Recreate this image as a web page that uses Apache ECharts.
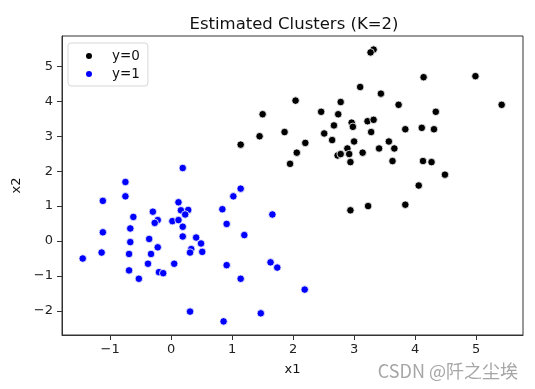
<!DOCTYPE html>
<html>
<head>
<meta charset="utf-8">
<script src="https://cdn.jsdelivr.net/npm/echarts@6/dist/echarts.min.js"></script>
<style>html,body{margin:0;padding:0;background:#fff;}#c{width:535px;height:389px;}</style>
</head>
<body>
<div id="c"></div>
<script>
const title = 'Estimated Clusters (K=2)';
const seriesNames = ['y=0', 'y=1'];
const xTicks = [-1, 0, 1, 2, 3, 4, 5];
const yTicks = [-2, -1, 0, 1, 2, 3, 4, 5];

const cluster0X = [3.32, 3.27, 4.14, 4.99, 5.42, 3.10, 3.44, 2.04, 2.78, 3.73, 1.50, 2.46, 2.74, 4.34,
  2.67, 2.96, 2.98, 3.22, 3.32, 3.84, 4.11, 4.31, 1.86, 1.45, 2.51, 3.28, 1.14, 2.20, 2.64, 3.00,
  3.57, 2.06, 2.89, 2.73, 2.78, 2.92, 3.14, 3.41, 3.66, 1.95, 2.94, 3.63, 4.13, 4.27, 4.49, 4.06,
  2.94, 3.23, 3.84];
const cluster0Y = [5.48, 5.40, 4.69, 4.72, 3.90, 4.41, 4.22, 4.02, 3.98, 3.90, 3.63, 3.70, 3.63, 3.70,
  3.31, 3.39, 3.27, 3.43, 3.47, 3.20, 3.24, 3.20, 3.12, 3.00, 3.08, 3.12, 2.76, 2.81, 2.89, 2.85,
  2.85, 2.53, 2.65, 2.45, 2.49, 2.49, 2.53, 2.65, 2.65, 2.21, 2.26, 2.29, 2.29, 2.26, 1.90, 1.59,
  0.88, 1.00, 1.04];

const cluster1X = [0.19, -0.75, -0.75, -1.12, 1.14, 1.02, 0.12, 0.16, 0.28, 0.23, 0.84, -0.30, -0.62,
  1.66, -0.22, -0.27, 0.02, 0.12, 0.91, -0.67, 0.19, -1.12, 1.20, 0.19, -0.36, 0.41, -0.67, 0.49,
  -0.22, 0.33, 0.31, 0.51, -1.14, -0.69, -0.33, -1.45, 1.63, 1.74, 0.91, 0.05, -0.38, -0.69, -0.20,
  -0.13, -0.53, 1.14, 2.19, 0.31, 1.47, 0.86];
const cluster1Y = [2.09, 1.69, 1.28, 1.15, 1.50, 1.28, 1.11, 0.88, 0.89, 0.76, 0.91, 0.84, 0.69,
  0.76, 0.60, 0.52, 0.57, 0.60, 0.49, 0.36, 0.41, 0.25, 0.17, 0.13, 0.06, 0.10, -0.03, -0.07,
  -0.18, -0.23, -0.33, -0.31, -0.33, -0.37, -0.37, -0.50, -0.61, -0.76, -0.69, -0.65, -0.65, -0.84, -0.89,
  -0.92, -1.08, -1.08, -1.39, -2.02, -2.07, -2.30];

const pairs = (xs, ys) => xs.map((x, i) => [x, ys[i]]);
const fmt = v => String(v).replace('-', '\u2212');
const font = 'DejaVu Sans';

const chart = echarts.init(document.getElementById('c'), null, {renderer: 'canvas'});
chart.setOption({
  animation: false,
  backgroundColor: '#fff',
  title: {
    text: title, left: 289, top: 11, textAlign: 'center',
    textStyle: {fontFamily: font, fontSize: 16.5, fontWeight: 'normal', color: '#111'}
  },
  grid: {left: 62, right: 12, top: 36, bottom: 54, show: true, borderColor: '#333', borderWidth: 1, backgroundColor: '#fff'},
  legend: {
    left: 68, top: 43, orient: 'vertical',
    data: seriesNames.map(n => ({name: n, icon: 'circle'})),
    itemWidth: 8, itemHeight: 8, itemGap: 4,
    padding: [6, 8, 5, 16],
    borderColor: '#d8d8d8', borderWidth: 1, borderRadius: 3, backgroundColor: '#fff',
    textStyle: {fontFamily: font, fontSize: 13.5, color: '#111', padding: [0, 0, 0, 14]}
  },
  xAxis: {
    type: 'value', min: -1.79, max: 5.77,
    name: 'x1', nameLocation: 'middle', nameGap: 28,
    nameTextStyle: {fontFamily: font, fontSize: 13, color: '#111'},
    axisLine: {show: true, onZero: false, lineStyle: {color: '#333'}},
    axisTick: {show: true, length: 5, lineStyle: {color: '#333'}, customValues: xTicks},
    axisLabel: {fontFamily: font, fontSize: 13, color: '#222', margin: 8, customValues: xTicks, formatter: fmt},
    splitLine: {show: false}
  },
  yAxis: {
    type: 'value', min: -2.69, max: 5.87,
    name: 'x2', nameLocation: 'middle', nameGap: 36, nameRotate: 90,
    nameTextStyle: {fontFamily: font, fontSize: 13, color: '#111'},
    axisLine: {show: true, onZero: false, lineStyle: {color: '#333'}},
    axisTick: {show: true, length: 5, lineStyle: {color: '#333'}, customValues: yTicks},
    axisLabel: {fontFamily: font, fontSize: 13, color: '#222', margin: 9, customValues: yTicks, formatter: fmt},
    splitLine: {show: false}
  },
  graphic: [{
    type: 'text', right: 17, top: 362,
    style: {text: 'CSDN @阡之尘埃', fontFamily: 'Noto Sans CJK SC', fontSize: 18, fill: '#a6a6a6'}
  }],
  series: [
    {name: seriesNames[0], type: 'scatter', data: pairs(cluster0X, cluster0Y), symbolSize: 7.5,
      itemStyle: {color: '#000', borderColor: '#fff', borderWidth: 0.8, opacity: 1}},
    {name: seriesNames[1], type: 'scatter', data: pairs(cluster1X, cluster1Y), symbolSize: 7.5,
      itemStyle: {color: '#0000ff', borderColor: '#fff', borderWidth: 0.8, opacity: 1}}
  ]
});
</script>
</body>
</html>
